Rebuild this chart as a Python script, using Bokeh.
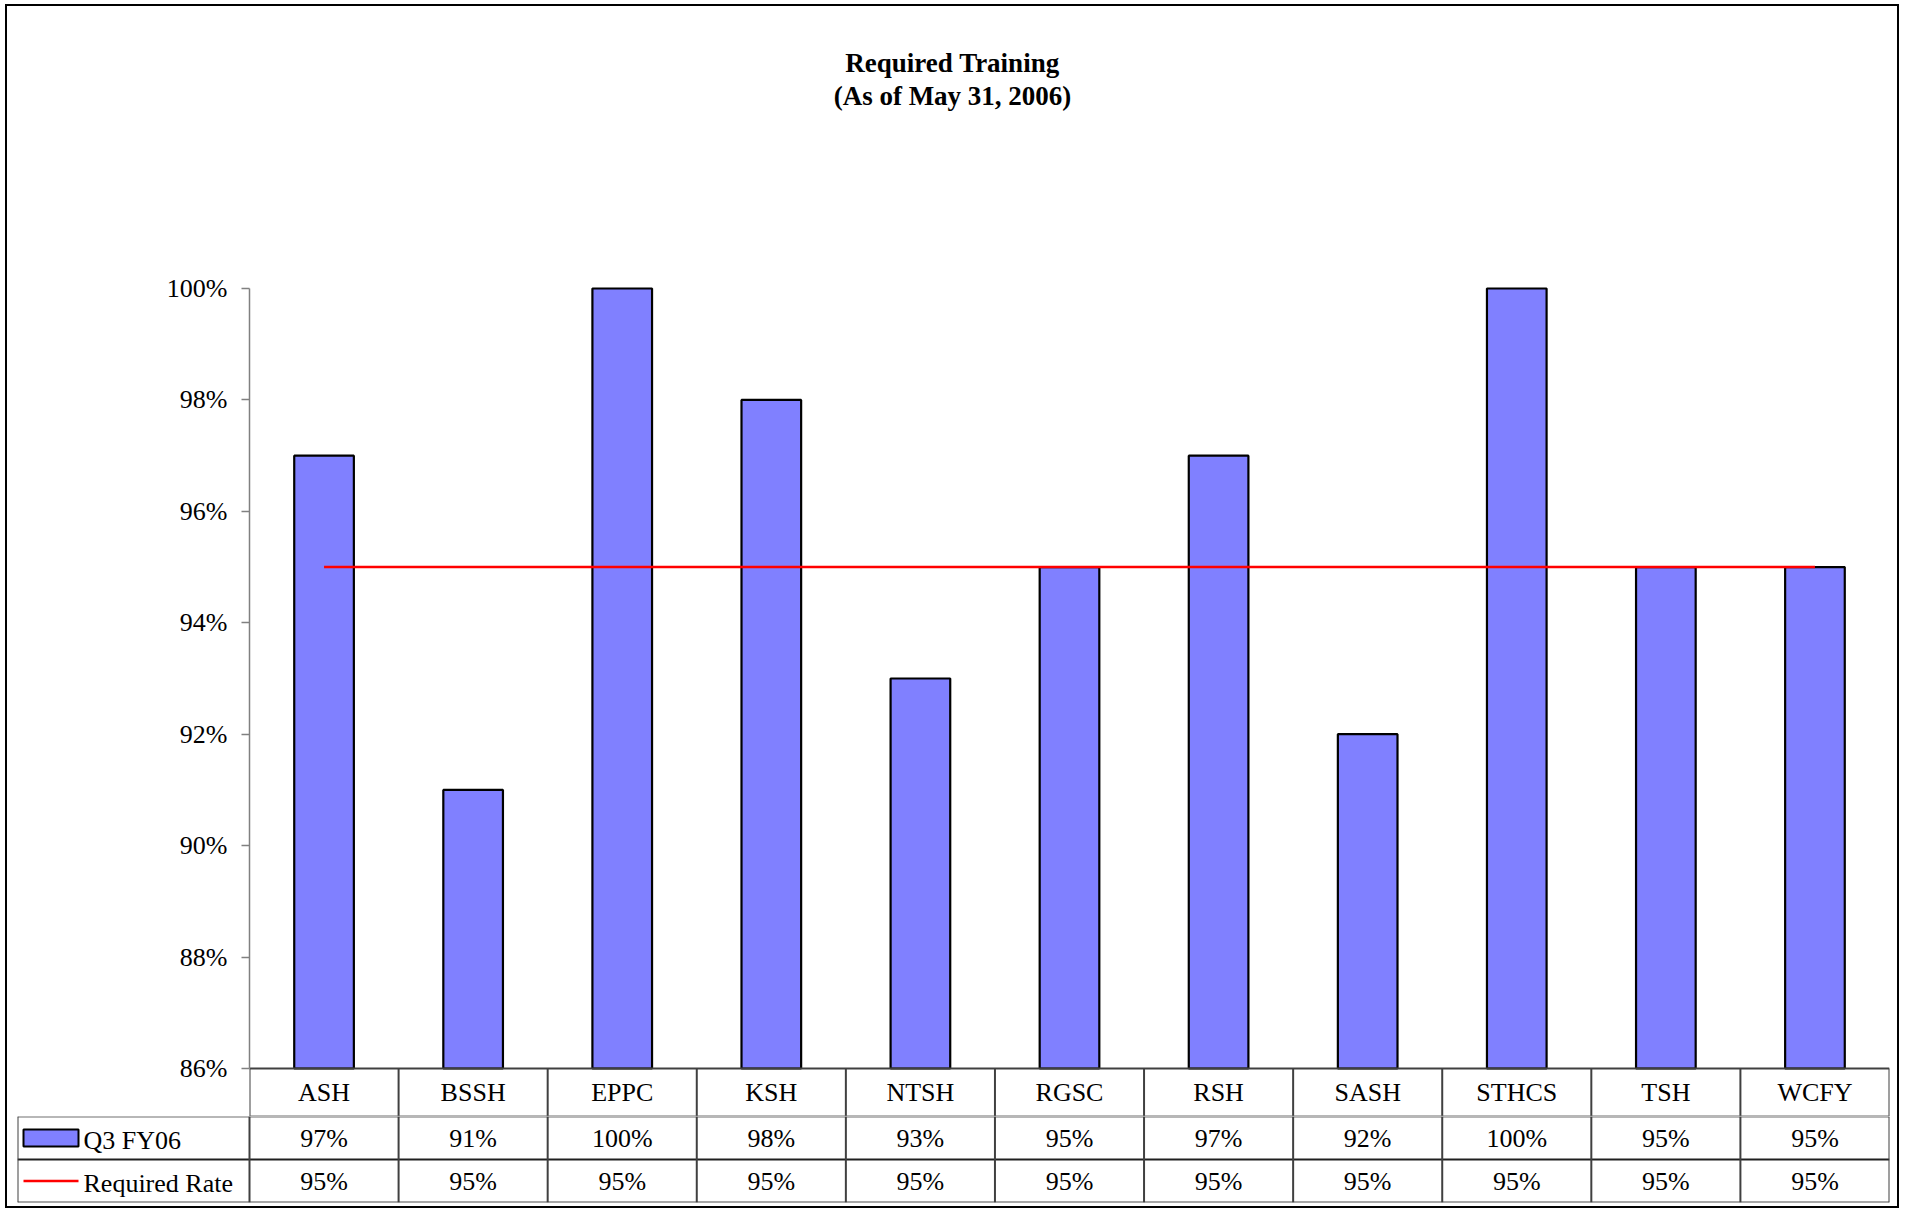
from bokeh.plotting import figure
from bokeh.layouts import column
from bokeh.models import Range1d, FactorRange, FixedTicker, PrintfTickFormatter, ColumnDataSource
from bokeh.core.properties import value
from bokeh.embed import file_html
from bokeh.resources import INLINE

# ---------------- data ----------------
categories = ["ASH", "BSSH", "EPPC", "KSH", "NTSH", "RGSC", "RSH", "SASH", "STHCS", "TSH", "WCFY"]
q3_fy06 = [97, 91, 100, 98, 93, 95, 97, 92, 100, 95, 95]
required_rate = [95, 95, 95, 95, 95, 95, 95, 95, 95, 95, 95]
series_names = ["Q3 FY06", "Required Rate"]
y_ticks = [86, 88, 90, 92, 94, 96, 98, 100]
title_lines = ["Required Training", "(As of May 31, 2006)"]

# ---------------- styling / layout ----------------
FONT = "Liberation Serif"
FS = "26px"
BAR_COLOR = "#8080FF"
LINE_COLOR = "#FF0000"
GRID_COLOR = "#404040"
W = 1890
N = len(categories)
FRAME_L_MAIN = 242          # page x 249
FRAME_L_TABLE = 10          # page x 17
FRAME_R = 8
CAT_W = (W - FRAME_L_MAIN - FRAME_R) / N
LEG_UNITS = (FRAME_L_MAIN - FRAME_L_TABLE) / CAT_W
PX_PER_UNIT = 780 / 14.0    # 86..100 spans 780 px
Y_MIN, Y_MAX = 86, 100
Y_END = Y_MAX + 22 / PX_PER_UNIT
Y_START = Y_MIN - 48 / PX_PER_UNIT   # header row of the data table

# ---------------- title figure ----------------
TH = 254
tp = figure(width=W, height=TH, toolbar_location=None, output_backend="svg",
            x_range=Range1d(0, 1), y_range=Range1d(0, TH),
            min_border=0, outline_line_color=None, frame_align=False)
tp.axis.visible = False
tp.grid.visible = False
tp.text(x=[0.5, 0.5], y=[TH - 56, TH - 89], text=title_lines,
        text_font=value(FONT), text_font_size="27px", text_font_style="bold",
        text_align="center", text_baseline="middle", text_color="black")

# ---------------- main chart ----------------
p = figure(width=W, height=856, toolbar_location=None, output_backend="svg",
           x_range=FactorRange(*categories, range_padding=0),
           y_range=Range1d(Y_START, Y_END),
           min_border_left=FRAME_L_MAIN, min_border_right=FRAME_R,
           min_border_top=6, min_border_bottom=0,
           outline_line_color=None, x_axis_location=None, frame_align=False)
p.grid.visible = False

src = ColumnDataSource(dict(cat=categories, q3=q3_fy06, req=required_rate))
p.vbar(x="cat", top="q3", bottom=Y_MIN, width=0.4, source=src,
       fill_color=BAR_COLOR, line_color="black", line_width=2.2)
p.line(x="cat", y="req", source=src, line_color=LINE_COLOR, line_width=2.5)

# header row of the data table (category names)
edges = list(range(N + 1))
p.segment(x0=[0], y0=[Y_MIN], x1=[N], y1=[Y_MIN], line_color=GRID_COLOR, line_width=2)
p.segment(x0=edges, y0=[Y_START] * (N + 1), x1=edges, y1=[Y_MIN] * (N + 1),
          line_color=GRID_COLOR, line_width=2)
p.segment(x0=[0], y0=[Y_START], x1=[N], y1=[Y_START], line_color="#707070", line_width=2)
p.text(x=categories, y=[(Y_MIN + Y_START) / 2] * N, text=categories,
       text_font=value(FONT), text_font_size=FS, text_color="black",
       text_align="center", text_baseline="middle")

ya = p.yaxis[0]
ya.ticker = FixedTicker(ticks=y_ticks)
ya.formatter = PrintfTickFormatter(format="%d%%")
ya.bounds = (Y_MIN, Y_MAX)
ya.axis_line_color = "#808080"
ya.axis_line_width = 1.5
ya.major_tick_line_color = "#808080"
ya.major_tick_line_width = 1.5
ya.major_tick_out = 8
ya.major_tick_in = 0
ya.minor_tick_line_color = None
ya.major_label_text_font = FONT
ya.major_label_text_font_size = FS
ya.major_label_text_color = "black"
ya.major_label_standoff = 14

# ---------------- data table (value rows) ----------------
t = figure(width=W, height=90, toolbar_location=None, output_backend="svg",
           x_range=Range1d(-LEG_UNITS, N), y_range=Range1d(0, 2),
           min_border_left=FRAME_L_TABLE, min_border_right=FRAME_R,
           min_border_top=0, min_border_bottom=4, outline_line_color=None,
           frame_align=False)
t.axis.visible = False
t.grid.visible = False

idx = list(range(N))
centers = [i + 0.5 for i in idx]
t.segment(x0=[-LEG_UNITS] * 3, y0=[2, 1, 0], x1=[N] * 3, y1=[2, 1, 0],
          line_color=["#707070", "#202020", "#505050"], line_width=2)
t.segment(x0=idx + [N, -LEG_UNITS], y0=[0] * (N + 2), x1=idx + [N, -LEG_UNITS], y1=[2] * (N + 2),
          line_color=GRID_COLOR, line_width=2)

txt = dict(text_font=value(FONT), text_font_size=FS, text_color="black",
           text_align="center", text_baseline="middle")
t.text(x=centers, y=[1.5] * N, text=[f"{v}%" for v in q3_fy06], **txt)
t.text(x=centers, y=[0.5] * N, text=[f"{v}%" for v in required_rate], **txt)

# legend cells
lx0 = -LEG_UNITS
sw_l = lx0 + 6 / CAT_W
sw_r = lx0 + 61 / CAT_W
t.quad(left=[sw_l], right=[sw_r], bottom=[1.5 - 0.2], top=[1.5 + 0.2],
       fill_color=BAR_COLOR, line_color="black", line_width=2)
t.segment(x0=[sw_l], y0=[0.5], x1=[sw_r], y1=[0.5], line_color=LINE_COLOR, line_width=2.5)
t.text(x=[lx0 + 66 / CAT_W] * 2, y=[1.45, 0.45], text=series_names,
       text_font=value(FONT), text_font_size=FS, text_color="black",
       text_align="left", text_baseline="middle")

layout = column(tp, p, t, spacing=0,
                styles={"border": "2px solid black", "margin": "4px 0 0 5px"})

open("out.html", "w").write(file_html(layout, INLINE))
